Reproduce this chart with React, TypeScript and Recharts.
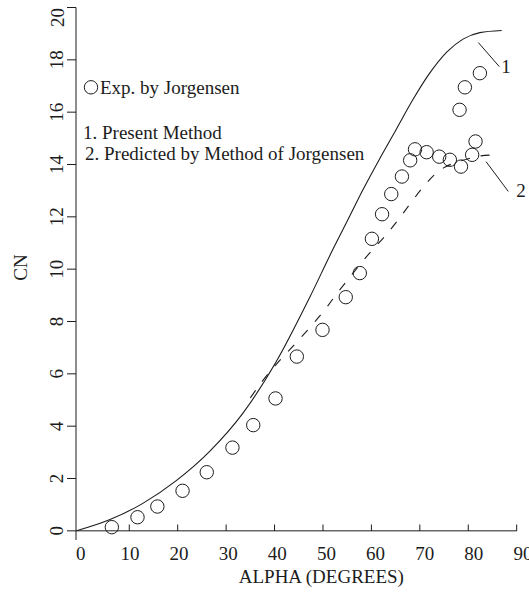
import React from 'react';
import {
  ComposedChart,
  Line,
  Scatter,
  XAxis,
  YAxis,
  ReferenceLine,
  ReferenceDot,
  Legend,
  Label,
} from 'recharts';

// Axis ticks
const alphaTicks = [0, 10, 20, 30, 40, 50, 60, 70, 80, 90];
const cnTicks = [0, 2, 4, 6, 8, 10, 12, 14, 16, 18, 20];

// Wind-tunnel measurements (alpha in degrees, normal-force coefficient)
const experimental = [
  { x: 6.4, y: 0.14 },
  { x: 11.7, y: 0.52 },
  { x: 15.8, y: 0.93 },
  { x: 21.0, y: 1.53 },
  { x: 26.0, y: 2.24 },
  { x: 31.3, y: 3.18 },
  { x: 35.6, y: 4.04 },
  { x: 40.2, y: 5.06 },
  { x: 44.6, y: 6.66 },
  { x: 49.9, y: 7.68 },
  { x: 54.7, y: 8.93 },
  { x: 57.6, y: 9.85 },
  { x: 60.1, y: 11.16 },
  { x: 62.2, y: 12.1 },
  { x: 64.1, y: 12.87 },
  { x: 66.3, y: 13.54 },
  { x: 68.0, y: 14.16 },
  { x: 69.0, y: 14.58 },
  { x: 71.4, y: 14.47 },
  { x: 74.0, y: 14.3 },
  { x: 76.2, y: 14.18 },
  { x: 78.5, y: 13.92 },
  { x: 80.8, y: 14.37 },
  { x: 81.5, y: 14.88 },
  { x: 78.2, y: 16.09 },
  { x: 79.3, y: 16.95 },
  { x: 82.4, y: 17.49 },
];

// Curve 1: present method
const presentMethod = [
  { x: -0.9, y: 0 },
  { x: 5.9, y: 0.42 },
  { x: 12.8, y: 1.05 },
  { x: 19.7, y: 1.92 },
  { x: 26.5, y: 3.02 },
  { x: 33.4, y: 4.48 },
  { x: 40.3, y: 6.45 },
  { x: 47.2, y: 8.9 },
  { x: 52, y: 10.74 },
  { x: 55.5, y: 12.02 },
  { x: 58.3, y: 13.05 },
  { x: 61.8, y: 14.25 },
  { x: 65, y: 15.3 },
  { x: 68.7, y: 16.52 },
  { x: 72, y: 17.48 },
  { x: 75.6, y: 18.3 },
  { x: 79, y: 18.8 },
  { x: 82.4, y: 19.04 },
  { x: 86.9, y: 19.12 },
];

// Curve 2: predicted by the method of Jorgensen
const jorgensenMethod = [
  { x: 35, y: 5.08 },
  { x: 37.6, y: 5.75 },
  { x: 40.3, y: 6.35 },
  { x: 43.1, y: 6.92 },
  { x: 45.8, y: 7.46 },
  { x: 48.6, y: 8.05 },
  { x: 51, y: 8.6 },
  { x: 53, y: 9.1 },
  { x: 55.4, y: 9.66 },
  { x: 58, y: 10.26 },
  { x: 60.5, y: 10.8 },
  { x: 62.5, y: 11.2 },
  { x: 65, y: 11.76 },
  { x: 67.8, y: 12.45 },
  { x: 70.5, y: 13.1 },
  { x: 73, y: 13.6 },
  { x: 75, y: 13.88 },
  { x: 77.5, y: 14.08 },
  { x: 80, y: 14.22 },
  { x: 82.5, y: 14.33 },
  { x: 85.9, y: 14.37 },
];

// Curve number tags and their leader lines
const curveTags = [
  { tag: '1', x: 87.8, y: 17.51 },
  { tag: '2', x: 90.9, y: 12.77 },
];
const leaderLines = [
  [
    { x: 82.08, y: 18.66 },
    { x: 86.41, y: 17.74 },
  ],
  [
    { x: 83.67, y: 14.11 },
    { x: 88.27, y: 12.97 },
  ],
];

const keyTexts = {
  exp: 'Exp. by Jorgensen',
  present: '1. Present Method',
  predicted: '2. Predicted by Method of Jorgensen',
};

const FONT = '"Liberation Serif", "Times New Roman", Times, serif';
const INK = '#1c1c1c';
const FS = 19;

const AlphaTick = (props: any) => {
  const { x, y, payload } = props;
  const v = payload.value as number;
  return (
    <g>
      {v !== 0 && (
        <line x1={x} x2={x} y1={y - 9} y2={y - 15.5} stroke={INK} strokeWidth={1} />
      )}
      <text
        x={x + v * 0.07}
        y={y + 20}
        textAnchor="middle"
        fontFamily={FONT}
        fontSize={FS}
        fill={INK}
      >
        {v}
      </text>
    </g>
  );
};

const CnTick = (props: any) => {
  const { x, y, payload } = props;
  const bx = x - 3.5;
  const cy = Math.max(y, 17.5);
  return (
    <text
      x={bx}
      y={cy}
      transform={`rotate(-90, ${bx}, ${cy})`}
      textAnchor="middle"
      fontFamily={FONT}
      fontSize={FS}
      fill={INK}
    >
      {payload.value}
    </text>
  );
};

const renderKey = () => (
  <svg width={529} height={200} style={{ display: 'block' }}>
    <circle cx={91} cy={87.3} r={6.7} fill="none" stroke={INK} strokeWidth={1} />
    <text x={100} y={94.3} fontFamily={FONT} fontSize={FS} fill={INK}>
      {keyTexts.exp}
    </text>
    <text x={83} y={139} fontFamily={FONT} fontSize={FS} fill={INK}>
      {keyTexts.present}
    </text>
    <text x={85} y={160} fontFamily={FONT} fontSize={FS} fill={INK}>
      {keyTexts.predicted}
    </text>
  </svg>
);

const ringShape = (props: any) => (
  <circle cx={props.cx} cy={props.cy} r={6.7} fill="none" stroke={INK} strokeWidth={1} />
);

export default function App() {
  return (
    <div style={{ position: 'absolute', left: 0, top: 0, background: '#fff' }}>
      <ComposedChart
        width={529}
        height={592}
        margin={{ top: 7.5, right: 12.3, bottom: 0, left: 0 }}
      >
        <XAxis
          type="number"
          dataKey="x"
          domain={[-1, 90]}
          ticks={alphaTicks}
          allowDataOverflow
          axisLine={false}
          tickLine={false}
          tickSize={0}
          tickMargin={0}
          height={52}
          tick={AlphaTick}
        >
          <Label
            content={(p: any) => {
              const vb = p.viewBox;
              return (
                <text
                  x={vb.x + vb.width / 2 + 25}
                  y={vb.y + 43}
                  textAnchor="middle"
                  fontFamily={FONT}
                  fontSize={FS}
                  fill={INK}
                >
                  ALPHA (DEGREES)
                </text>
              );
            }}
          />
        </XAxis>
        <YAxis
          type="number"
          dataKey="y"
          domain={[-0.35, 20]}
          ticks={cnTicks}
          allowDataOverflow
          width={76}
          axisLine={{ stroke: INK, strokeWidth: 1 }}
          tickLine={{ stroke: INK, strokeWidth: 1 }}
          tickSize={9}
          tickMargin={0}
          tick={CnTick}
        >
          <Label
            content={(p: any) => {
              const vb = p.viewBox;
              const bx = vb.x + 26.7;
              const cy = 267.5;
              return (
                <text
                  x={bx}
                  y={cy}
                  transform={`rotate(-90, ${bx}, ${cy})`}
                  textAnchor="middle"
                  fontFamily={FONT}
                  fontSize={FS}
                  fill={INK}
                >
                  CN
                </text>
              );
            }}
          />
        </YAxis>

        <ReferenceLine y={0} stroke={INK} strokeWidth={1} />

        <Line
          data={presentMethod}
          dataKey="y"
          name={keyTexts.present}
          type="monotone"
          stroke={INK}
          strokeWidth={1.1}
          dot={false}
          activeDot={false}
          isAnimationActive={false}
        />
        <Line
          data={jorgensenMethod}
          dataKey="y"
          name={keyTexts.predicted}
          type="monotone"
          stroke={INK}
          strokeWidth={1.1}
          strokeDasharray="9 11"
          dot={false}
          activeDot={false}
          isAnimationActive={false}
        />
        <Scatter
          data={experimental}
          dataKey="y"
          name={keyTexts.exp}
          shape={ringShape}
          isAnimationActive={false}
        />

        {leaderLines.map((seg, i) => (
          <ReferenceLine
            key={`leader-${i}`}
            segment={seg}
            stroke={INK}
            strokeWidth={1}
            ifOverflow="visible"
          />
        ))}
        {curveTags.map((t) => (
          <ReferenceDot
            key={`tag-${t.tag}`}
            x={t.x}
            y={t.y}
            r={0}
            fill="none"
            stroke="none"
            ifOverflow="visible"
            label={{
              content: (p: any) => {
                const vb = p.viewBox || {};
                const cx = (vb.x ?? 0) + (vb.width ?? 0) / 2;
                const cy = (vb.y ?? 0) + (vb.height ?? 0) / 2;
                return (
                  <text
                    x={cx}
                    y={cy}
                    textAnchor="middle"
                    fontFamily={FONT}
                    fontSize={FS}
                    fill={INK}
                  >
                    {t.tag}
                  </text>
                );
              },
            }}
          />
        ))}

        <Legend
          layout="vertical"
          align="center"
          verticalAlign="middle"
          wrapperStyle={{ left: 0, top: 0, width: 529, height: 200, pointerEvents: 'none' }}
          content={renderKey}
        />
      </ComposedChart>
    </div>
  );
}
